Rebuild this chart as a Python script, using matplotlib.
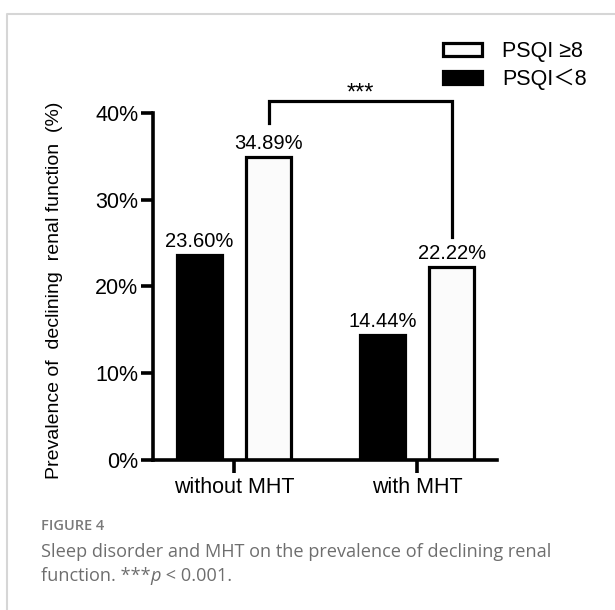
import matplotlib
matplotlib.use("Agg")
import matplotlib.pyplot as plt
from matplotlib.lines import Line2D
import numpy as np

plt.rcParams["font.family"] = ["Liberation Sans", "Noto Sans CJK SC", "DejaVu Sans"]

groups = ["without MHT", "with MHT"]
psqi_low = [23.60, 14.44]    # PSQI < 8
psqi_high = [34.89, 22.22]   # PSQI >= 8
y_ticks = [0, 10, 20, 30, 40]
series_labels = ["PSQI ≥8", "PSQI＜8"]
signif = "***"

fig = plt.figure(figsize=(6.15, 6.10), dpi=100)
ax = fig.add_axes([0.2488, 0.2459, 0.5594, 0.5689])

x = np.arange(len(groups))
w = 0.246
off = 0.19
lw = 2.3

b_low = ax.bar(x - off, psqi_low, w, color="black", edgecolor="black", linewidth=lw)
b_high = ax.bar(x + off, psqi_high, w, color="#fbfbfb", edgecolor="black", linewidth=lw)

for bars, vals in ((b_low, psqi_low), (b_high, psqi_high)):
    for b, v in zip(bars, vals):
        ax.annotate(f"{v:.2f}%", (b.get_x() + b.get_width() / 2, v),
                    xytext=(0, 3), textcoords="offset points",
                    ha="center", va="bottom", fontsize=14.5)

# significance bracket between the two PSQI >= 8 bars
x1, x2 = x[0] + off, x[1] + off
top = 41.4
ax.plot([x1, x1, x2, x2], [38.85, top, top, 25.7], color="black",
        linewidth=lw, clip_on=False, solid_joinstyle="miter")
ax.text((x1 + x2) / 2, 42.2, signif, ha="center", va="center", fontsize=17)

ax.set_xlim(-0.443, 1.437)
ax.set_ylim(0, 40)
ax.set_yticks(y_ticks)
ax.set_yticklabels([f"{t}%" for t in y_ticks], fontsize=15.5)
ax.set_xticks(x)
ax.set_xticklabels(groups, fontsize=15.5)
ax.set_ylabel("Prevalence of  declining  renal function  (%)", fontsize=14)
ax.yaxis.set_label_coords(-0.262, 0.49)

for side in ("top", "right"):
    ax.spines[side].set_visible(False)
for side in ("left", "bottom"):
    ax.spines[side].set_linewidth(2.6)
ax.tick_params(axis="y", width=2.6, length=9, direction="out", pad=1.5)
ax.tick_params(axis="x", width=2.6, length=9, direction="out", pad=3)

ax.legend([b_high, b_low], series_labels, loc="upper left",
          bbox_to_anchor=(0.720, 0.932), bbox_transform=fig.transFigure,
          frameon=False, fontsize=15.5, handlelength=1.81, handleheight=0.55,
          handletextpad=0.93, labelspacing=0.3, borderpad=0, borderaxespad=0)

# caption block
cap = "#6e6e6e"
cap_font = ["Open Sans", "DejaVu Sans"]
cap_size = 13.1
fig.text(0.0667, 0.131, "FIGURE 4", color="#7a7a7a", fontsize=10.5,
         family=cap_font, fontweight="semibold", va="baseline")
fig.text(0.0667, 0.0869, "Sleep disorder and MHT on the prevalence of declining renal",
         color=cap, fontsize=cap_size, family=cap_font, va="baseline")
t1 = fig.text(0.0667, 0.0475, "function. ***", color=cap, fontsize=cap_size,
              family=cap_font, va="baseline")
t2 = fig.text(0, 0, "p", color=cap, fontsize=cap_size, family=cap_font,
              fontstyle="italic", va="baseline")
t3 = fig.text(0, 0, " < 0.001.", color=cap, fontsize=cap_size, family=cap_font,
              va="baseline")

# chain the caption pieces so the italic p sits right after "***"
fig.canvas.draw()
r = fig.canvas.get_renderer()
inv = fig.transFigure.inverted()
x_end = inv.transform(t1.get_window_extent(r).p1)[0]
t2.set_position((x_end, 0.0475))
x_end = inv.transform(t2.get_window_extent(r).p1)[0]
t3.set_position((x_end, 0.0475))

# light frame around the figure panel
fig.add_artist(Line2D([0.0114, 0.0114, 1.0], [0.0, 0.977, 0.977], color="#d6d6d6",
                      linewidth=1.5, transform=fig.transFigure))

fig.savefig("out.png", dpi=100)
